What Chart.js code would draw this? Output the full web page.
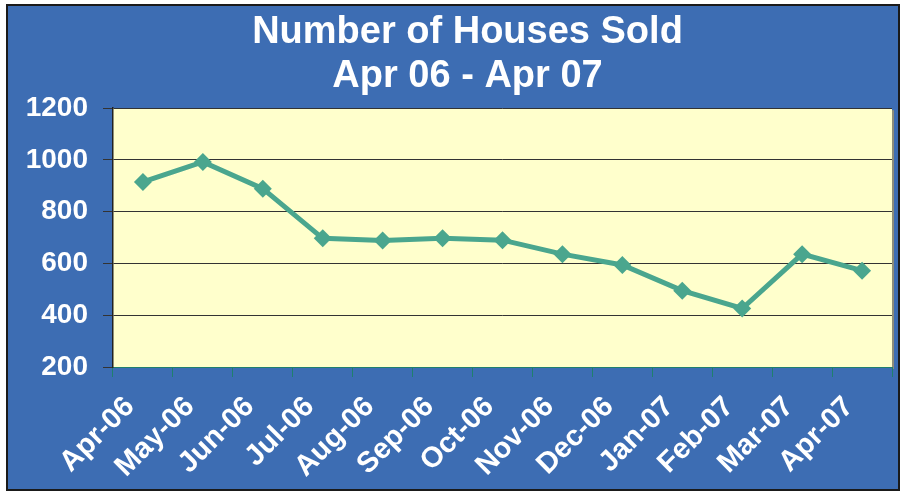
<!DOCTYPE html>
<html>
<head>
<meta charset="utf-8">
<script src="https://cdn.jsdelivr.net/npm/chart.js@4.4.1/dist/chart.umd.min.js"></script>
<style>
  html, body { margin: 0; padding: 0; background: #fff; }
  #wrap { width: 904px; height: 493px; }
</style>
</head>
<body>
<div id="wrap"><canvas id="c" width="904" height="493"></canvas></div>
<script>
const months = ['Apr-06','May-06','Jun-06','Jul-06','Aug-06','Sep-06','Oct-06','Nov-06','Dec-06','Jan-07','Feb-07','Mar-07','Apr-07'];
const housesSold = [915, 992, 889, 697, 689, 697, 690, 636, 594, 495, 426, 636, 572];
const titleLines = ['Number of Houses Sold', 'Apr 06 - Apr 07'];

const BLUE = '#3D6DB3';
const PLOT = '#FFFFCC';
const LINE = '#4AA68E';
const FONT = "'Liberation Sans', Arial, sans-serif";

// frame + plot fill
const bgPlugin = {
  id: 'bg',
  afterLayout(chart) {
    // title sits a bit right of canvas centre in the original
    const t = chart.titleBlock;
    t.left += 10; t.right += 10;
  },
  beforeDraw(chart) {
    const c = chart.ctx, a = chart.chartArea;
    c.save();
    c.fillStyle = '#fff';
    c.fillRect(0, 0, chart.width, chart.height);
    c.fillStyle = BLUE;
    c.fillRect(7, 5, 892, 485);
    c.strokeStyle = '#1a1a1a'; c.lineWidth = 2;
    c.strokeRect(7, 5, 892, 485);
    c.fillStyle = '#8c8c7a';
    c.fillRect(a.right, a.top + 2, 2, a.bottom - a.top);
    c.fillStyle = PLOT;
    c.fillRect(a.left, a.top, a.right - a.left, a.bottom - a.top);
    c.restore();
  }
};

new Chart(document.getElementById('c'), {
  type: 'line',
  data: {
    labels: months,
    datasets: [{
      data: housesSold,
      borderColor: LINE, backgroundColor: LINE,
      borderWidth: 5, pointStyle: 'rectRot', pointRadius: 9,
      pointBackgroundColor: LINE, pointBorderColor: LINE, pointBorderWidth: 0,
      tension: 0, fill: false
    }]
  },
  options: {
    responsive: false,
    animation: false,
    devicePixelRatio: 1,
    layout: { padding: { left: 23, right: 12, top: 0, bottom: 0 } },
    plugins: {
      legend: { display: false },
      tooltip: { enabled: false },
      title: {
        display: true, text: titleLines, color: '#fff',
        font: { family: FONT, size: 38, weight: 'bold', lineHeight: 1.16 },
        padding: { top: 10, bottom: 10 }
      }
    },
    scales: {
      x: {
        offset: true,
        grid: { offset: true, drawOnChartArea: false, color: '#1F7F6E', tickLength: 10, lineWidth: 1 },
        border: { color: '#1F7F6E', width: 1 },
        ticks: { color: '#fff', font: { family: FONT, size: 29, weight: 'bold' }, maxRotation: 45, minRotation: 45, padding: 13, labelOffset: -13, autoSkip: false },
        afterFit(axis) { axis.height = 126; }
      },
      y: {
        min: 200, max: 1200,
        grid: { color: '#333', tickLength: 10, lineWidth: 1 },
        border: { color: '#222', width: 1.5 },
        ticks: { stepSize: 200, color: '#fff', font: { family: FONT, size: 28, weight: 'bold' }, padding: 15, callback: v => String(v) },
        afterFit(axis) { axis.width = 90; }
      }
    }
  },
  plugins: [bgPlugin]
});
</script>
</body>
</html>
